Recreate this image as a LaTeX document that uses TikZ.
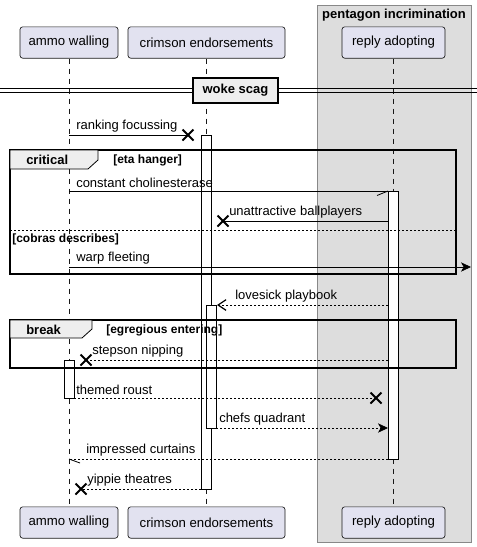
\documentclass[tikz,border=0pt]{standalone}
\usepackage{fontspec}
\setmainfont{Liberation Sans}
\usetikzlibrary{arrows.meta}
\definecolor{partfill}{HTML}{E2E2F0}
\definecolor{partdraw}{HTML}{181818}
\definecolor{boxfill}{HTML}{DDDDDD}
\definecolor{boxdraw}{HTML}{888888}
\definecolor{tabfill}{HTML}{EEEEEE}
\begin{document}
\begin{tikzpicture}[x=0.75pt,y=-0.75pt,
  part/.style={draw=partdraw,fill=partfill,rounded corners=2pt,minimum height=23.5pt,inner sep=0pt,font=\fontsize{9.9}{11}\selectfont,line width=0.5pt},
  life/.style={draw=partdraw,dash pattern=on 3.75pt off 3.75pt,line width=0.4pt},
  act/.style={draw=black,fill=white,line width=0.6pt},
  msg/.style={draw=black,line width=0.6pt},
  dmsg/.style={draw=black,line width=0.6pt,dash pattern=on 1.5pt off 1.5pt},
  lbl/.style={anchor=south west,inner sep=0pt,font=\fontsize{9.75}{11}\selectfont},
  blbl/.style={anchor=west,inner sep=0pt,font=\bfseries\fontsize{9}{10}\selectfont},
  xmark/.style={draw=black,line width=1.5pt},
  fa/.style={-{Stealth[length=7.5pt,width=7pt,inset=2pt]}},
  oa/.style={-{Straight Barb[length=6pt,width=8pt,line width=0.9pt]}},
  frame/.style={draw=black,line width=1.5pt}
]
\useasboundingbox (0,0) rectangle (477,547);
% group box
\draw[fill=boxfill,draw=boxdraw,line width=0.6pt] (317,5) rectangle (471,542);
\node[font=\bfseries\fontsize{9.75}{11}\selectfont,inner sep=0pt] (gt) at (394,15) {pentagon incrimination};
% participants
\node[part,minimum width=73.5pt] (aT) at (69,42.5) {ammo walling};
\node[part,minimum width=117.75pt] (cT) at (206.5,42.5) {crimson endorsements};
\node[part,minimum width=77.25pt] (rT) at (393.5,42.5) {reply adopting};
\node[part,minimum width=73.5pt] (aB) at (69,522.5) {ammo walling};
\node[part,minimum width=117.75pt] (cB) at (206.5,522.5) {crimson endorsements};
\node[part,minimum width=77.25pt] (rB) at (393.5,522.5) {reply adopting};
\draw[life] (aT.south) -- (aB.north);
\draw[life] (cT.south) -- (cB.north);
\draw[life] (rT.south) -- (rB.north);
% divider
\draw[line width=0.6pt] (0,88) -- (477,88) (0,92) -- (477,92);
\node[draw=black,line width=1.5pt,fill=tabfill,minimum width=63.75pt,minimum height=18.75pt,inner sep=0pt,font=\bfseries\fontsize{9.75}{11}\selectfont] (div) at (235.5,90.5) {woke scag};
% activations
\draw[act] (201,135) rectangle (211,489);
\draw[act] (388,191) rectangle (398,459);
\draw[act] (206,305) rectangle (216,428);
\draw[act] (64,360) rectangle (74,398);
% coordinates
\coordinate (a1) at (69,135); \coordinate (x1) at (188,135);
\coordinate (a2) at (69,191); \coordinate (r2) at (388,191);
\coordinate (r3) at (388,221); \coordinate (x3) at (223,221);
\coordinate (a4) at (69,267); \coordinate (e4) at (471,267);
\coordinate (r5) at (388,305); \coordinate (c5) at (217,305);
\coordinate (r6) at (388,360); \coordinate (x6) at (86,360);
\coordinate (a7) at (74,398); \coordinate (x7) at (376,398);
\coordinate (c8) at (216,428); \coordinate (r8) at (388,428);
\coordinate (r9) at (388,459); \coordinate (a9) at (69,459);
\coordinate (c10) at (201,489); \coordinate (x10) at (81,489);
% critical frame
\draw[frame] (10,150) rectangle (456,274);
\draw[fill=tabfill,draw=black,line width=0.6pt] (10,150) -- (98,150) -- (98,160) -- (88,169) -- (10,169) -- cycle;
\node[blbl,font=\bfseries\fontsize{9.75}{11}\selectfont] (crit) at (26,160) {critical};
\node[blbl] (g1) at (113,160) {[eta hanger]};
\draw[dmsg,line width=0.5pt,dash pattern=on 1.5pt off 1.5pt] (10,230) -- (456,230);
\node[blbl] (g2) at (12,239) {[cobras describes]};
% break frame
\draw[frame] (10,320) rectangle (456,368);
\draw[fill=tabfill,draw=black,line width=0.6pt] (10,320) -- (92,320) -- (92,329) -- (82,338) -- (10,338) -- cycle;
\node[blbl,font=\bfseries\fontsize{9.75}{11}\selectfont] (brk) at (26,330) {break};
\node[blbl] (g3) at (106,330) {[egregious entering]};
% messages
\draw[msg] (a1) -- (x1);
\node[lbl] at (76,132) {ranking focussing};
\draw[msg] (a2) -- (r2);
\draw[msg] (r2) -- (377,195.5);
\node[lbl] at (76,188) {constant cholinesterase};
\draw[msg] (r3) -- (x3);
\node[lbl] at (229,218) {unattractive ballplayers};
\draw[msg,fa] (a4) -- (e4);
\node[lbl] at (76,264) {warp fleeting};
\draw[dmsg,oa] (r5) -- (c5);
\node[lbl] at (235,302) {lovesick playbook};
\draw[dmsg] (r6) -- (x6);
\node[lbl] at (92,357) {stepson nipping};
\draw[dmsg] (a7) -- (x7);
\node[lbl] at (76,395) {themed roust};
\draw[dmsg,fa] (c8) -- (r8);
\node[lbl] at (219,425) {chefs quadrant};
\draw[dmsg] (r9) -- (a9);
\draw[msg] (a9) -- (80,463);
\node[lbl] at (86,456) {impressed curtains};
\draw[dmsg] (c10) -- (x10);
\node[lbl] at (87,486) {yippie theatres};
% x marks
\foreach \p in {x1,x3,x6,x7,x10}{
  \draw[xmark] ([shift={(-5.5,-5.5)}]\p) -- ([shift={(5.5,5.5)}]\p);
  \draw[xmark] ([shift={(-5.5,5.5)}]\p) -- ([shift={(5.5,-5.5)}]\p);
}
\end{tikzpicture}
\end{document}
